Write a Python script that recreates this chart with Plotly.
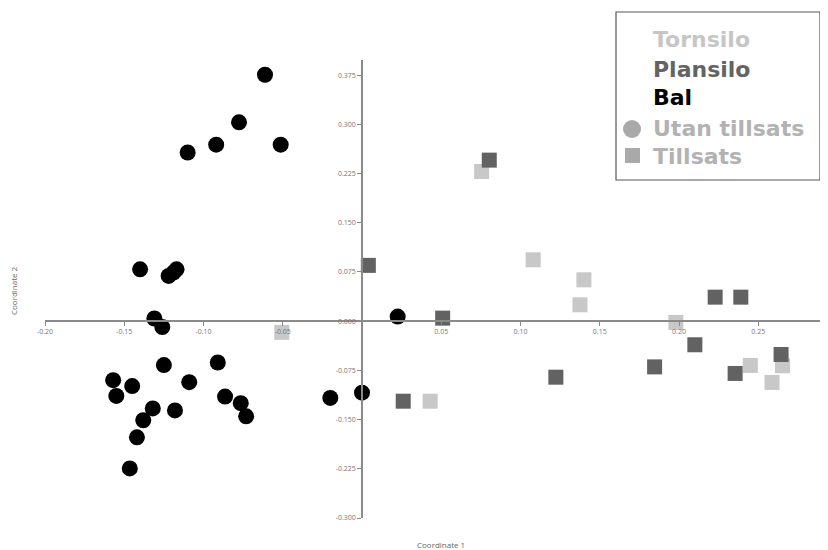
import plotly.graph_objects as go

# ---- data ----
tornsilo_x = [-0.0506, 0.0755, 0.108, 0.140, 0.1375, 0.043, 0.198, 0.245, 0.2653, 0.2587]
tornsilo_y = [-0.017, 0.228, 0.0935, 0.063, 0.0249, -0.122, -0.002, -0.0675, -0.068, -0.0934]

plansilo_x = [0.004, 0.0509, 0.026, 0.0803, 0.1223, 0.2228, 0.239, 0.210, 0.1846, 0.2354, 0.2644]
plansilo_y = [0.085, 0.0046, -0.122, 0.2454, -0.0854, 0.0366, 0.0366, -0.036, -0.0697, -0.0797, -0.0508]

bal_x = [-0.0612, -0.0776, -0.092, -0.110, -0.0513,
         -0.140, -0.122, -0.119, -0.117,
         -0.131, -0.126, -0.125, -0.091, -0.157, -0.145, -0.109, -0.155,
         -0.0864, -0.0765, -0.0731, -0.132, -0.118, -0.138, -0.142, -0.1465,
         0.0225, -0.020, 0.000]
bal_y = [0.3755, 0.303, 0.269, 0.257, 0.269,
         0.079, 0.069, 0.074, 0.079,
         0.004, -0.009, -0.067, -0.063, -0.090, -0.099, -0.093, -0.114,
         -0.115, -0.125, -0.145, -0.133, -0.136, -0.151, -0.177, -0.2245,
         0.007, -0.117, -0.109]

x_tickvals = [-0.20, -0.15, -0.10, -0.05, 0.0, 0.05, 0.10, 0.15, 0.20, 0.25]
x_ticktext = ["-0.20", "-0.15", "-0.10", "-0.05", "", "0.05", "0.10", "0.15", "0.20", "0.25"]
y_tickvals = [0.375, 0.300, 0.225, 0.150, 0.075, 0.0, -0.075, -0.150, -0.225, -0.300]
y_ticktext = ["0.375", "0.300", "0.225", "0.150", "0.075", "0.000", "-0.075", "-0.150", "-0.225", "-0.300"]

legend_labels = ["Tornsilo", "Plansilo", "Bal", "Utan tillsats", "Tillsats"]
legend_colors = ["#c6c6c6", "#646464", "#000000", "#b2b2b2", "#b2b2b2"]

LIGHT = "#c8c8c8"
DARK = "#626262"
BLACK = "#000000"

X_RANGE = [-0.2, 0.294]
Y_RANGE = [-0.3, 0.398]

fig = go.Figure()
fig.add_trace(go.Scatter(x=tornsilo_x, y=tornsilo_y, mode="markers", name="Tornsilo",
                         marker=dict(symbol="square", size=15, color=LIGHT)))
fig.add_trace(go.Scatter(x=plansilo_x, y=plansilo_y, mode="markers", name="Plansilo",
                         marker=dict(symbol="square", size=15, color=DARK)))
fig.add_trace(go.Scatter(x=bal_x, y=bal_y, mode="markers", name="Bal",
                         marker=dict(symbol="circle", size=16, color=BLACK)))

OFF = 8  # page body margin in the browser
W, H = 828 - OFF, 550 - OFF
ML, MR, MT, MB = 45 - OFF, 0, 60 - OFF, 32
PW = W - ML - MR
PH = H - MT - MB


def px(xp):
    return (xp - OFF - ML) / PW


def py(yp):
    return (H - MB - (yp - OFF)) / PH


tick_font = dict(family="Open Sans, DejaVu Sans, sans-serif", size=7, color="#777777")
axis_col = "#8a8a8a"

fig.update_layout(
    width=W, height=H,
    margin=dict(l=ML, r=MR, t=MT, b=MB),
    paper_bgcolor="white", plot_bgcolor="white",
    showlegend=False,
    xaxis=dict(range=X_RANGE, anchor="free",
               position=(0 - Y_RANGE[0]) / (Y_RANGE[1] - Y_RANGE[0]),
               showline=True, linecolor=axis_col, linewidth=1.5,
               showgrid=False, zeroline=False,
               ticks="outside", ticklen=4, tickcolor=axis_col, tickwidth=1,
               tickvals=x_tickvals, ticktext=x_ticktext, tickfont=tick_font),
    yaxis=dict(range=Y_RANGE, anchor="free",
               position=(0 - X_RANGE[0]) / (X_RANGE[1] - X_RANGE[0]),
               showline=True, linecolor=axis_col, linewidth=1.5,
               showgrid=False, zeroline=False,
               ticks="outside", ticklen=4, tickcolor=axis_col, tickwidth=1,
               tickvals=y_tickvals, ticktext=y_ticktext, tickfont=tick_font),
)

# axis titles
title_font = dict(family="Open Sans, DejaVu Sans, sans-serif", size=8, color="#666666")
fig.add_annotation(text="Coordinate 1", xref="paper", yref="paper",
                   x=px(441), y=py(544), xanchor="center", yanchor="middle",
                   showarrow=False, font=title_font)
fig.add_annotation(text="Coordinate 2", xref="paper", yref="paper",
                   x=px(13), y=py(291), xanchor="center", yanchor="middle",
                   showarrow=False, textangle=-90, font=title_font)

# custom legend box
fig.add_shape(type="rect", xref="paper", yref="paper",
              x0=px(616), x1=px(820), y0=py(12), y1=py(180),
              line=dict(color="#555555", width=1.2), fillcolor="white", layer="above")

legend_y = [40, 69, 98, 128, 156]
for lab, col, yy in zip(legend_labels, legend_colors, legend_y):
    fig.add_annotation(text="<b>" + lab + "</b>", xref="paper", yref="paper",
                       x=px(651), y=py(yy), xanchor="left", yanchor="middle",
                       showarrow=False,
                       font=dict(family="DejaVu Sans, Verdana, sans-serif", size=22, color=col))

# legend symbols
fig.add_shape(type="circle", xref="paper", yref="paper",
              x0=px(623), x1=px(641), y0=py(120), y1=py(138),
              line=dict(width=0), fillcolor="#a9a9a9", layer="above")
fig.add_shape(type="rect", xref="paper", yref="paper",
              x0=px(625), x1=px(640), y0=py(148), y1=py(163),
              line=dict(width=0), fillcolor="#a9a9a9", layer="above")

fig.write_html("out.html")
